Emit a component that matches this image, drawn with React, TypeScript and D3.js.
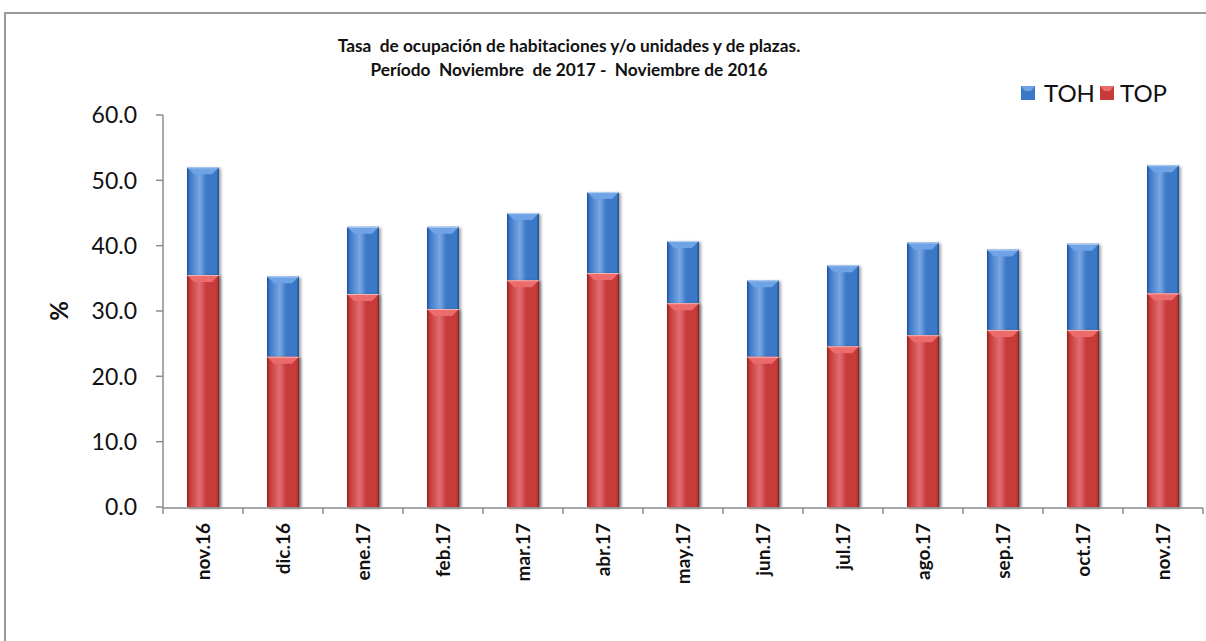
import React, { useEffect, useRef } from "react";
import * as d3 from "d3";

const categories = [
  "nov.16", "dic.16", "ene.17", "feb.17", "mar.17", "abr.17", "may.17",
  "jun.17", "jul.17", "ago.17", "sep.17", "oct.17", "nov.17",
];
const tohValues = [52.0, 35.3, 42.9, 42.9, 45.0, 48.2, 40.7, 34.7, 37.0, 40.5, 39.4, 40.3, 52.3];
const topValues = [35.5, 23.0, 32.6, 30.3, 34.7, 35.8, 31.2, 23.0, 24.6, 26.3, 27.1, 27.1, 32.7];
const yTicks = [0, 10, 20, 30, 40, 50, 60];

const seriesColors = {
  TOH: { base: "#3b78c6", light: "#6fa3e6", dark: "#1f4f8f" },
  TOP: { base: "#c83a3a", light: "#ec6b6b", dark: "#8a1f1f" },
};

export default function App() {
  const ref = useRef<SVGSVGElement>(null);

  useEffect(() => {
    if (!ref.current) return;
    const svg = d3.select(ref.current);
    svg.selectAll("*").remove();

    const width = 1206;
    const height = 641;
    const left = 163;
    const right = 1203;
    const top = 115;
    const bottom = 507;
    const font = "Lato, 'Open Sans', sans-serif";

    // frame of the original sheet
    svg
      .append("rect")
      .attr("x", 5)
      .attr("y", 13)
      .attr("width", width)
      .attr("height", height)
      .attr("fill", "#fff")
      .attr("stroke", "#9a9a9a")
      .attr("stroke-width", 2);

    const x = d3.scaleBand<string>().domain(categories).range([left, right]).paddingInner(0.6).paddingOuter(0.3);
    const y = d3.scaleLinear().domain([0, 60]).range([bottom, top]);

    const defs = svg.append("defs");
    Object.entries(seriesColors).forEach(([key, c]) => {
      const g = defs
        .append("linearGradient")
        .attr("id", `grad-${key}`)
        .attr("x1", "0%")
        .attr("x2", "100%");
      g.append("stop").attr("offset", "0%").attr("stop-color", c.dark);
      g.append("stop").attr("offset", "8%").attr("stop-color", c.base);
      g.append("stop").attr("offset", "40%").attr("stop-color", c.light).attr("stop-opacity", 0.9);
      g.append("stop").attr("offset", "60%").attr("stop-color", c.base);
      g.append("stop").attr("offset", "92%").attr("stop-color", c.base);
      g.append("stop").attr("offset", "100%").attr("stop-color", c.dark);
    });
    const shadow = defs.append("filter").attr("id", "shadow").attr("x", "-20%").attr("width", "150%");
    shadow
      .append("feDropShadow")
      .attr("dx", 2)
      .attr("dy", 1)
      .attr("stdDeviation", 1.5)
      .attr("flood-color", "#000")
      .attr("flood-opacity", 0.35);

    const bw = x.bandwidth();
    const bevel = 7;

    const drawBar = (g: d3.Selection<SVGGElement, unknown, null, undefined>, cx: number, v: number, key: "TOH" | "TOP") => {
      const c = seriesColors[key];
      const x0 = cx - bw / 2;
      const x1 = cx + bw / 2;
      const yt = y(v);
      g.append("rect")
        .attr("x", x0)
        .attr("y", yt)
        .attr("width", bw)
        .attr("height", bottom - yt)
        .attr("fill", `url(#grad-${key})`)
        .attr("filter", "url(#shadow)");
      g.append("path")
        .attr("d", `M${x0},${yt}L${x1},${yt}L${x1 - bevel},${yt + bevel}L${x0 + bevel},${yt + bevel}Z`)
        .attr("fill", c.light);
      g.append("line")
        .attr("x1", x0)
        .attr("x2", x1)
        .attr("y1", yt + 0.5)
        .attr("y2", yt + 0.5)
        .attr("stroke", "#fff")
        .attr("stroke-opacity", 0.5);
    };

    const bars = svg.append("g");
    categories.forEach((cat, i) => {
      const cx = (x(cat) ?? 0) + bw / 2;
      drawBar(bars, cx, tohValues[i], "TOH");
      drawBar(bars, cx, topValues[i], "TOP");
    });

    // y axis
    const axisColor = "#8c8c8c";
    svg.append("line").attr("x1", left).attr("x2", left).attr("y1", top).attr("y2", bottom + 1).attr("stroke", axisColor).attr("stroke-width", 1.5);
    yTicks.forEach((t) => {
      svg.append("line").attr("x1", left - 7).attr("x2", left).attr("y1", y(t)).attr("y2", y(t)).attr("stroke", axisColor).attr("stroke-width", 1.5);
      svg
        .append("text")
        .attr("x", 137)
        .attr("y", y(t))
        .attr("dy", "0.36em")
        .attr("text-anchor", "end")
        .attr("font-family", font)
        .attr("font-size", 23)
        .attr("fill", "#111")
        .text(t.toFixed(1));
    });

    // x axis
    const step = x.step();
    svg.append("line").attr("x1", left).attr("x2", right).attr("y1", bottom + 1).attr("y2", bottom + 1).attr("stroke", axisColor).attr("stroke-width", 1.5);
    d3.range(categories.length + 1).forEach((i) => {
      const tx = left + step * i;
      svg.append("line").attr("x1", tx).attr("x2", tx).attr("y1", bottom + 1).attr("y2", bottom + 7).attr("stroke", axisColor).attr("stroke-width", 1.5);
    });
    categories.forEach((cat) => {
      const cx = (x(cat) ?? 0) + bw / 2;
      svg
        .append("text")
        .attr("transform", `translate(${cx},${bottom + 16}) rotate(-90)`)
        .attr("dy", "0.36em")
        .attr("text-anchor", "end")
        .attr("font-family", font)
        .attr("font-weight", "bold")
        .attr("font-size", 19)
        .attr("fill", "#111")
        .text(cat);
    });

    // y label
    svg
      .append("text")
      .attr("transform", `translate(59,${(top + bottom) / 2}) rotate(-90)`)
      .attr("dy", "0.36em")
      .attr("text-anchor", "middle")
      .attr("font-family", font)
      .attr("font-weight", "bold")
      .attr("font-size", 24)
      .attr("fill", "#111")
      .text("%");

    // title
    const title = svg
      .append("text")
      .attr("text-anchor", "middle")
      .attr("font-family", font)
      .attr("font-weight", "bold")
      .attr("font-size", 17.3)
      .attr("fill", "#111")
      .attr("xml:space", "preserve")
      .style("white-space", "pre");
    title.append("tspan").attr("x", 569).attr("y", 52).text("Tasa  de ocupación de habitaciones y/o unidades y de plazas.");
    title.append("tspan").attr("x", 569).attr("y", 76).text("Período  Noviembre  de 2017 -  Noviembre de 2016");

    // legend
    const legend = [
      { key: "TOH" as const, x: 1021, tx: 1044 },
      { key: "TOP" as const, x: 1100, tx: 1120 },
    ];
    legend.forEach((l) => {
      const c = seriesColors[l.key];
      svg.append("rect").attr("x", l.x).attr("y", 86).attr("width", 14).attr("height", 14).attr("fill", c.base);
      svg
        .append("path")
        .attr("d", `M${l.x},86L${l.x + 14},86L${l.x + 10},91L${l.x + 4},91Z`)
        .attr("fill", c.light);
      svg
        .append("text")
        .attr("x", l.tx)
        .attr("y", 93)
        .attr("dy", "0.36em")
        .attr("font-family", font)
        .attr("font-size", 24)
        .attr("fill", "#111")
        .text(l.key);
    });
  }, []);

  return (
    <svg
      ref={ref}
      width={1206}
      height={641}
      style={{ position: "absolute", left: 0, top: 0, display: "block", background: "#fff" }}
    />
  );
}
